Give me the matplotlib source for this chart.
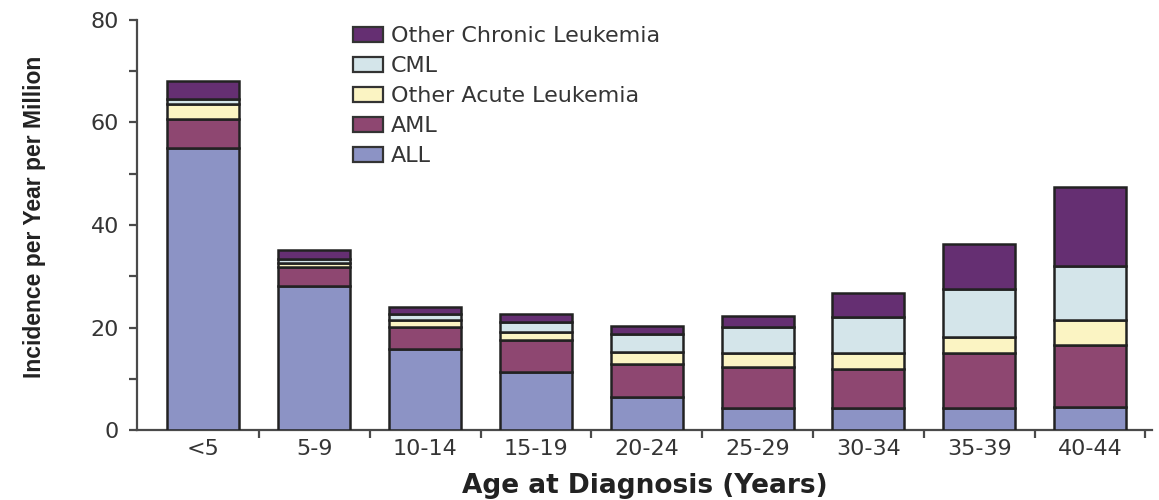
"""Stacked bar chart of leukemia incidence by age at diagnosis."""

import matplotlib
matplotlib.use('Agg')
import matplotlib.pyplot as plt
import numpy as np
from matplotlib.patches import Patch
from matplotlib.ticker import FixedLocator, MultipleLocator

age_groups = ['<5', '5-9', '10-14', '15-19', '20-24', '25-29', '30-34', '35-39', '40-44']

# incidence per year per million, bottom of the stack first
all_rate = [55.0, 28.1, 15.8, 11.3, 6.4, 4.4, 4.3, 4.3, 4.5]
aml_rate = [5.6, 3.8, 4.4, 6.3, 6.6, 8.0, 7.6, 10.7, 12.2]
other_acute_rate = [2.9, 0.7, 1.3, 1.6, 2.2, 2.6, 3.1, 3.2, 4.8]
cml_rate = [1.0, 0.8, 1.1, 1.8, 3.6, 5.2, 7.1, 9.3, 10.6]
other_chronic_rate = [3.6, 1.7, 1.4, 1.6, 1.6, 2.1, 4.6, 8.8, 15.2]

series_names = ['ALL', 'AML', 'Other Acute Leukemia', 'CML', 'Other Chronic Leukemia']
series_colors = ['#8c93c5', '#8e4771', '#fbf4c3', '#d4e5ea', '#652f72']

TEXT = '#353535'

fig = plt.figure(figsize=(11.59, 5.0), dpi=100)
W, H = 1159, 500
ax = fig.add_axes([137 / W, 1 - 430.3 / H, (1152 - 137) / W, (430.3 - 19.6) / H])

x = np.arange(len(age_groups))
bottom = np.zeros(len(age_groups))
series = [all_rate, aml_rate, other_acute_rate, cml_rate, other_chronic_rate]
for vals, color in zip(series, series_colors):
    vals = np.asarray(vals)
    ax.bar(x, vals, width=0.65, bottom=bottom, color=color,
           edgecolor='#222222', linewidth=1.8, zorder=3)
    bottom += vals

ax.set_xlim(-0.6, 8.56)
ax.set_ylim(0, 80)

for side in ('top', 'right'):
    ax.spines[side].set_visible(False)
for side in ('left', 'bottom'):
    ax.spines[side].set_color('#4a4a4a')
    ax.spines[side].set_linewidth(1.6)

# category labels sit under the bars, tick marks sit between them
ax.set_xticks(x)
ax.set_xticklabels(age_groups)
ax.xaxis.set_minor_locator(FixedLocator(x + 0.5))
ax.tick_params(axis='x', which='major', length=0, pad=6,
               labelsize=16, labelcolor=TEXT)
ax.tick_params(axis='x', which='minor', length=6, width=1.6,
               direction='out', color='#4a4a4a')

ax.set_yticks([0, 20, 40, 60, 80])
ax.yaxis.set_minor_locator(MultipleLocator(10))
ax.tick_params(axis='y', which='both', length=6, width=1.6,
               direction='out', color='#4a4a4a', pad=7,
               labelsize=16, labelcolor=TEXT)

ax.set_xlabel('Age at Diagnosis (Years)', fontsize=19, fontweight='bold',
              color='#222222', labelpad=10)
ax.set_ylabel('Incidence per Year per Million', fontsize=16.5, fontweight='bold',
              color='#222222', family='Liberation Sans')
ax.yaxis.set_label_coords(-0.09, 0.52)

handles = [Patch(facecolor=c, edgecolor='#333333', linewidth=1.6)
           for c in series_colors][::-1]
leg = fig.legend(handles, series_names[::-1], loc='upper left',
                 bbox_to_anchor=(353 / W, 1 - 26 / H),
                 frameon=False, fontsize=16, handlelength=1.35,
                 handleheight=0.68, handletextpad=0.35, labelspacing=0.45,
                 borderpad=0, borderaxespad=0)
for t in leg.get_texts():
    t.set_color(TEXT)

fig.savefig('out.png', dpi=100)
